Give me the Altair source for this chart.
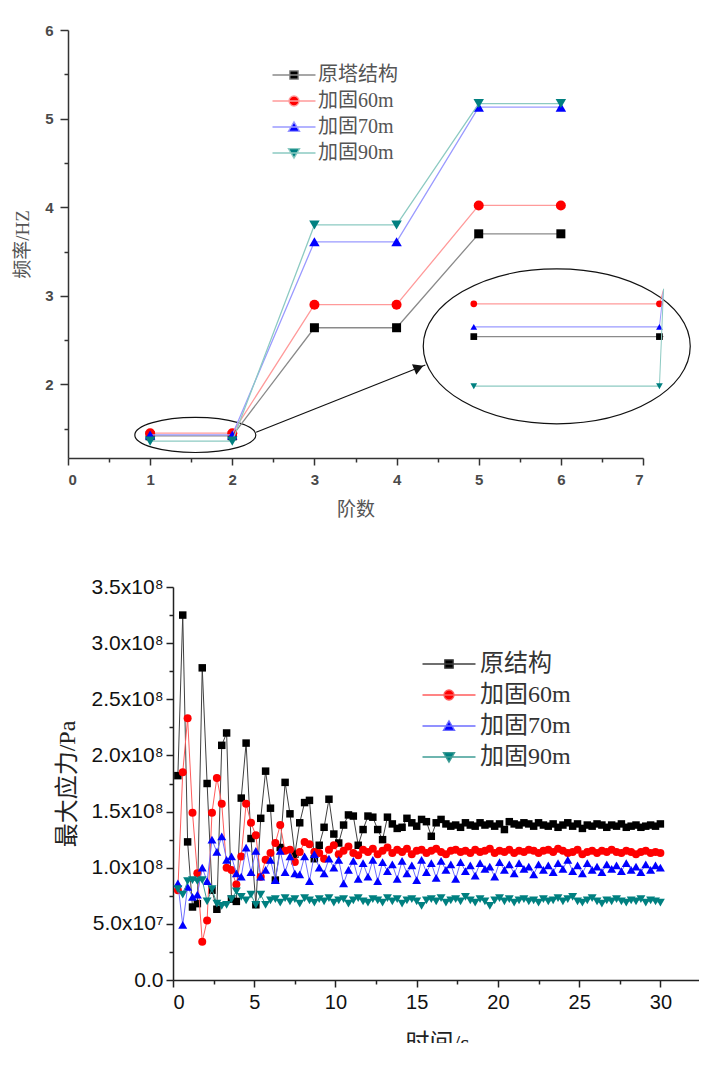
import json
import altair as alt
import pandas as pd

SERIF = "Liberation Serif, Noto Sans CJK SC"
SANS = "Liberation Sans, Arial"

# ================= top panel: frequency vs. mode order =================
orders = [1, 2, 3, 4, 5, 6]
freq_series = ["原塔结构", "加固60m", "加固70m", "加固90m"]
freq_original = [1.42, 1.42, 2.64, 2.64, 3.70, 3.70]
freq_60m = [1.45, 1.45, 2.90, 2.90, 4.02, 4.02]
freq_70m = [1.43, 1.43, 3.61, 3.61, 5.13, 5.13]
freq_90m = [1.36, 1.36, 3.80, 3.80, 5.17, 5.17]
order_ticks = [0, 0.5, 1, 1.5, 2, 2.5, 3, 3.5, 4, 4.5, 5, 5.5, 6, 6.5, 7]
freq_ticks = [1.5, 2, 2.5, 3, 3.5, 4, 4.5, 5, 5.5, 6]

# magnified inset of orders 1-2 (drawn inside the large ellipse)
inset_x = [4.94, 7.20]
inset_original = [2.54, 2.54]
inset_60m = [2.91, 2.91]
inset_70m = [2.65, 2.65]
inset_90m = [1.98, 1.98]
tail_x = [7.20, 7.25]
tail_original = [2.54, 2.54]
tail_60m = [2.91, 3.07]
tail_70m = [2.65, 3.07]
tail_90m = [1.98, 3.08]

# annotation geometry (data units)
small_ellipse = {"order": [1.55], "freq": [1.43]}
big_ellipse = {"order": [5.95], "freq": [2.43]}
arrow = {"order": [2.29], "freq": [1.46], "order2": [4.35], "freq2": [2.22]}
arrow_head = {"order": [4.27], "freq": [2.19]}

# ================= bottom panel: max stress vs time =================
stress_series = ["原结构", "加固60m", "加固70m", "加固90m"]
times = [0.3, 0.6, 0.9, 1.2, 1.5, 1.8, 2.1, 2.4, 2.7, 3.0,
         3.3, 3.6, 3.9, 4.2, 4.5, 4.8, 5.1, 5.4, 5.7, 6.0,
         6.3, 6.6, 6.9, 7.2, 7.5, 7.8, 8.1, 8.4, 8.7, 9.0,
         9.3, 9.6, 9.9, 10.2, 10.5, 10.8, 11.1, 11.4, 11.7, 12.0,
         12.3, 12.6, 12.9, 13.2, 13.5, 13.8, 14.1, 14.4, 14.7, 15.0,
         15.3, 15.6, 15.9, 16.2, 16.5, 16.8, 17.1, 17.4, 17.7, 18.0,
         18.3, 18.6, 18.9, 19.2, 19.5, 19.8, 20.1, 20.4, 20.7, 21.0,
         21.3, 21.6, 21.9, 22.2, 22.5, 22.8, 23.1, 23.4, 23.7, 24.0,
         24.3, 24.6, 24.9, 25.2, 25.5, 25.8, 26.1, 26.4, 26.7, 27.0,
         27.3, 27.6, 27.9, 28.2, 28.5, 28.8, 29.1, 29.4, 29.7, 30.0]
# values in units of 1e8 Pa
stress_original = [1.82, 3.25, 1.23, 0.65, 0.68, 2.78, 1.75, 0.80, 0.63, 2.09,
                   2.20, 0.72, 0.70, 1.62, 2.11, 1.26, 0.67, 1.44, 1.86, 1.53,
                   0.89, 1.18, 1.76, 1.48, 1.12, 1.40, 1.58, 1.60, 1.08, 1.20,
                   1.36, 1.61, 1.30, 1.22, 1.38, 1.47, 1.46, 1.20, 1.34, 1.46,
                   1.45, 1.34, 1.25, 1.45, 1.39, 1.35, 1.36, 1.44, 1.40, 1.37,
                   1.43, 1.41, 1.28, 1.40, 1.43, 1.39, 1.37, 1.38, 1.36, 1.40,
                   1.38, 1.37, 1.40, 1.38, 1.39, 1.37, 1.39, 1.34, 1.41, 1.39,
                   1.38, 1.40, 1.39, 1.37, 1.40, 1.38, 1.37, 1.39, 1.36, 1.38,
                   1.40, 1.37, 1.39, 1.35, 1.38, 1.37, 1.39, 1.38, 1.36, 1.38,
                   1.37, 1.39, 1.36, 1.37, 1.38, 1.36, 1.37, 1.38, 1.37, 1.39]
stress_60m = [0.80, 1.85, 2.33, 1.49, 0.95, 0.34, 0.53, 1.49, 1.80, 1.57,
              1.00, 0.98, 0.85, 1.10, 1.57, 1.40, 1.29, 0.92, 1.07, 1.13,
              1.22, 1.38, 1.15, 1.16, 1.05, 1.14, 1.23, 1.21, 1.14, 1.13,
              1.08, 1.16, 1.20, 1.12, 1.15, 1.19, 1.13, 1.11, 1.16, 1.14,
              1.17, 1.12, 1.15, 1.18, 1.13, 1.16, 1.14, 1.17, 1.12, 1.15,
              1.16, 1.13, 1.15, 1.17, 1.14, 1.12, 1.15, 1.16, 1.14, 1.15,
              1.13, 1.16, 1.14, 1.15, 1.17, 1.13, 1.15, 1.14, 1.16, 1.13,
              1.15, 1.14, 1.16, 1.15, 1.13, 1.15, 1.16, 1.14, 1.17, 1.15,
              1.13, 1.14, 1.16, 1.12, 1.14, 1.15, 1.13, 1.15, 1.14, 1.16,
              1.14, 1.13, 1.15, 1.14, 1.12, 1.14, 1.15, 1.13, 1.14, 1.13]
stress_70m = [0.86, 0.49, 0.83, 0.74, 0.76, 1.00, 0.88, 1.25, 1.14, 1.28,
              1.07, 1.10, 0.95, 0.92, 1.18, 0.96, 1.15, 0.92, 0.98, 1.07,
              0.89, 1.15, 0.96, 1.10, 0.95, 0.94, 1.10, 0.88, 1.12, 1.00,
              0.95, 1.08, 1.00, 1.07, 0.86, 0.98, 1.06, 0.90, 1.04, 0.92,
              1.07, 0.88, 1.05, 0.97, 1.03, 0.90, 1.06, 0.95, 1.02, 0.89,
              1.07, 0.96, 1.04, 0.91, 1.06, 0.98, 1.03, 0.90, 1.05, 0.97,
              1.02, 0.93, 1.04, 0.99, 1.01, 0.92, 1.05, 0.98, 1.03, 0.95,
              1.04, 0.99, 1.01, 0.94, 1.03, 0.98, 1.02, 0.96, 1.04, 0.99,
              1.07, 0.97, 1.02, 0.95, 1.04, 0.98, 1.01, 0.96, 1.03, 0.99,
              1.02, 0.97, 1.04, 0.98, 1.01, 0.96, 1.03, 0.98, 1.02, 1.00]
stress_90m = [0.81, 0.76, 0.88, 0.89, 0.88, 0.89, 0.70, 0.81, 0.68, 0.66,
              0.67, 0.72, 0.79, 0.74, 0.71, 0.76, 0.67, 0.76, 0.67, 0.71,
              0.72, 0.69, 0.73, 0.70, 0.72, 0.68, 0.73, 0.71, 0.69, 0.72,
              0.70, 0.73, 0.69, 0.71, 0.72, 0.68, 0.71, 0.73, 0.70, 0.69,
              0.72, 0.71, 0.69, 0.73, 0.70, 0.72, 0.68, 0.71, 0.72, 0.70,
              0.66, 0.71, 0.72, 0.70, 0.73, 0.69, 0.71, 0.72, 0.70, 0.74,
              0.71, 0.69, 0.72, 0.70, 0.66, 0.71, 0.73, 0.70, 0.72, 0.69,
              0.71, 0.72, 0.70, 0.71, 0.69, 0.72, 0.70, 0.71, 0.73, 0.70,
              0.72, 0.74, 0.70, 0.69, 0.71, 0.73, 0.70, 0.68, 0.71, 0.70,
              0.72, 0.70, 0.69, 0.71, 0.70, 0.72, 0.69, 0.71, 0.70, 0.69]
time_ticks = [0, 2.5, 5, 7.5, 10, 12.5, 15, 17.5, 20, 22.5, 25, 27.5, 30, 32.5]
stress_ticks = [0, 0.25, 0.5, 0.75, 1.0, 1.25, 1.5, 1.75, 2.0, 2.25, 2.5, 2.75, 3.0, 3.25, 3.5]
stress_tick_labels = ["0.0", "5.0x10⁷", "1.0x10⁸", "1.5x10⁸", "2.0x10⁸", "2.5x10⁸", "3.0x10⁸", "3.5x10⁸"]

# ================= styles =================
marker_colors = ["#000000", "#ff0000", "#0000ff", "#008080"]
marker_shapes = ["square", "circle", "triangle-up", "triangle-down"]
top_line_colors = ["#8a8a8a", "#ff9a9a", "#9a9aff", "#8ccac2"]
bottom_line_colors = ["#404040", "#ff5c5c", "#6e6eff", "#3f9d95"]

# The two panels share a left origin in the concat layout; the upper plot area
# starts 105 px further left, so its x range begins at -105 and its y axis is offset.
TOP_SHIFT = 105


def ellipse_path(r):
    # closed ellipse (half-width 1, half-height r) from four cubic Bezier quarters
    k = 0.5523
    kr = k * r
    return (f"M-1,0C-1,{-kr:.4f},{-k},{-r},0,{-r}C{k},{-r},1,{-kr:.4f},1,0"
            f"C1,{kr:.4f},{k},{r},0,{r}C{-k},{r},-1,{kr:.4f},-1,0Z")


def legend_paths(h):
    return [
        f"M-{h},0H{h}M-0.42,-0.42H0.42V0.42H-0.42Z",
        f"M-{h},0H{h}M0.5,0A0.5,0.5,0,1,1,-0.5,0A0.5,0.5,0,1,1,0.5,0Z",
        f"M-{h},0H{h}M0,-0.52L0.56,0.44H-0.56Z",
        f"M-{h},0H{h}M0,0.52L0.56,-0.44H-0.56Z",
    ]


def make_legend(lx, ly, fsize, rowpad, loff, color):
    return alt.Legend(
        title=None, orient="none", legendX=lx, legendY=ly, direction="vertical",
        labelFont=SERIF, labelFontSize=fsize, labelColor=color, labelLimit=400,
        symbolSize=400, symbolStrokeWidth=1.3, symbolOpacity=1,
        rowPadding=rowpad, labelOffset=loff, padding=0,
    )


def legend_layer(series, paths, line_colors, legend):
    df = pd.DataFrame({"series": series})
    return alt.Chart(df).transform_filter("false").mark_point(filled=True, opacity=1).encode(
        shape=alt.Shape("series:N", scale=alt.Scale(domain=series, range=paths), legend=legend),
        fill=alt.Fill("series:N", scale=alt.Scale(domain=series, range=marker_colors), legend=legend),
        stroke=alt.Stroke("series:N", scale=alt.Scale(domain=series, range=line_colors), legend=legend),
    )


def series_layers(frames, X, Y, line_colors, sizes, lw):
    out = []
    for df, lc, mc, shp, size in zip(frames, line_colors, marker_colors, marker_shapes, sizes):
        base = alt.Chart(df)
        out.append(base.mark_line(strokeWidth=lw, color=lc).encode(x=X, y=Y))
        out.append(base.mark_point(filled=True, opacity=1, size=size, shape=shp, color=mc).encode(x=X, y=Y))
    return out


# ================= top chart =================
top_frames = [pd.DataFrame({"order": orders, "freq": v})
              for v in [freq_original, freq_60m, freq_70m, freq_90m]]
inset_frames = [pd.DataFrame({"order": inset_x, "freq": v})
                for v in [inset_original, inset_60m, inset_70m, inset_90m]]
tail_frames = [pd.DataFrame({"order": tail_x, "freq": v})
               for v in [tail_original, tail_60m, tail_70m, tail_90m]]

top_axis_common = dict(
    labelFont=SANS, labelFontSize=15, labelFontWeight="bold", labelColor="#4a4a4a",
    titleFont=SERIF, titleFontSize=19, titleFontWeight="normal", titleColor="#555555",
    domainColor="#333333", domainWidth=1.5, tickColor="#333333", tickWidth=1.5, grid=False,
)
X1 = alt.X("order:Q", scale=alt.Scale(domain=[0, 7], nice=False, zero=False, rangeMin=-TOP_SHIFT),
           axis=alt.Axis(values=order_ticks, title="阶数",
                         labelExpr="datum.value % 1 === 0 ? '' + datum.value : ''",
                         tickSize={"condition": {"test": "datum.value % 1 !== 0", "value": 4}, "value": 7},
                         labelPadding=7, titlePadding=13, **top_axis_common))
Y1 = alt.Y("freq:Q", scale=alt.Scale(domain=[1.17, 6], nice=False, zero=False),
           axis=alt.Axis(values=freq_ticks, title="频率/HZ", offset=TOP_SHIFT,
                         labelExpr="datum.value % 1 === 0 ? '' + datum.value : ''",
                         tickSize={"condition": {"test": "datum.value % 1 !== 0", "value": 4}, "value": 8},
                         labelPadding=7, titlePadding=12, **top_axis_common))

inset_layers = []
for df_i, df_t, lc, mc, shp in zip(inset_frames, tail_frames, top_line_colors, marker_colors, marker_shapes):
    inset_layers.append(alt.Chart(df_i).mark_line(strokeWidth=1.3, color=lc).encode(x=X1, y=Y1))
    inset_layers.append(alt.Chart(df_t).mark_line(strokeWidth=1.0, color=lc).encode(x=X1, y=Y1))
    inset_layers.append(alt.Chart(df_i).mark_point(filled=True, opacity=1, size=45, shape=shp, color=mc).encode(x=X1, y=Y1))

ell_small = alt.Chart(pd.DataFrame(small_ellipse)).mark_point(
    shape=ellipse_path(0.29), size=121 * 121, filled=False,
    stroke="#111111", strokeWidth=1.2, opacity=1).encode(x=X1, y=Y1)
ell_big = alt.Chart(pd.DataFrame(big_ellipse)).mark_point(
    shape=ellipse_path(0.58), size=267 * 267, filled=False,
    stroke="#111111", strokeWidth=1.2, opacity=1).encode(x=X1, y=Y1)
arrow_line = alt.Chart(pd.DataFrame(arrow)).mark_rule(color="#111111", strokeWidth=1.2).encode(
    x=X1, y=Y1, x2=alt.X2("order2:Q"), y2=alt.Y2("freq2:Q"))
arrow_tip = alt.Chart(pd.DataFrame(arrow_head)).mark_point(
    shape="triangle-right", angle=338, size=130, filled=True, color="#111111", opacity=1).encode(x=X1, y=Y1)

top = alt.layer(
    ell_small, ell_big, arrow_line, arrow_tip, *inset_layers,
    *series_layers(top_frames, X1, Y1, top_line_colors, [81, 100, 110, 110], 1.3),
    legend_layer(freq_series, legend_paths(2.15), top_line_colors,
                 make_legend(110, 34, 20, 5, 13, "#555555")),
).properties(width=575 - TOP_SHIFT, height=428)

# ================= bottom chart =================
bot_frames = [pd.DataFrame({"time": times, "stress": v})
              for v in [stress_original, stress_60m, stress_70m, stress_90m]]

bot_axis_common = dict(
    labelFont=SANS, labelColor="#111111",
    titleFont=SERIF, titleFontSize=24, titleFontWeight="normal", titleColor="#222222",
    domainColor="#222222", domainWidth=1.5, tickColor="#222222", tickWidth=1.5, grid=False,
)
label_array = json.dumps(stress_tick_labels, ensure_ascii=False)
X2 = alt.X("time:Q", scale=alt.Scale(domain=[0, 32.5], nice=False, zero=False),
           axis=alt.Axis(values=time_ticks, title="时间/s", labelFontSize=20,
                         labelExpr="datum.value % 5 === 0 ? datum.label : ''",
                         tickSize={"condition": {"test": "datum.value % 5 !== 0", "value": 4}, "value": 7},
                         labelPadding=5, titlePadding=19, **bot_axis_common))
Y2 = alt.Y("stress:Q", scale=alt.Scale(domain=[0, 3.5], nice=False, zero=False),
           axis=alt.Axis(values=stress_ticks, title="最大应力/Pa", labelFontSize=21,
                         labelExpr=f"abs(datum.value * 2 - round(datum.value * 2)) < 0.001 ? {label_array}[round(datum.value * 2)] : ''",
                         tickSize={"condition": {"test": "abs(datum.value * 2 - round(datum.value * 2)) > 0.001", "value": 4}, "value": 7},
                         labelPadding=3, titlePadding=12, **bot_axis_common))

bottom = alt.layer(
    *series_layers(bot_frames, X2, Y2, bottom_line_colors, [56, 64, 80, 80], 1.0),
    legend_layer(stress_series, legend_paths(2.65), bottom_line_colors,
                 make_legend(264, 65, 24, 7, 19, "#333333")),
).properties(width=528, height=393)

chart = alt.vconcat(top, bottom, spacing=55).resolve_scale(
    fill="independent", shape="independent", stroke="independent"
).resolve_legend(
    fill="independent", shape="independent", stroke="independent"
).properties(
    padding={"left": 5, "top": 14, "right": -50, "bottom": -13},
    background="white",
).configure_view(stroke="transparent")

chart.save("out.html", embed_options={"renderer": "svg", "actions": False})
